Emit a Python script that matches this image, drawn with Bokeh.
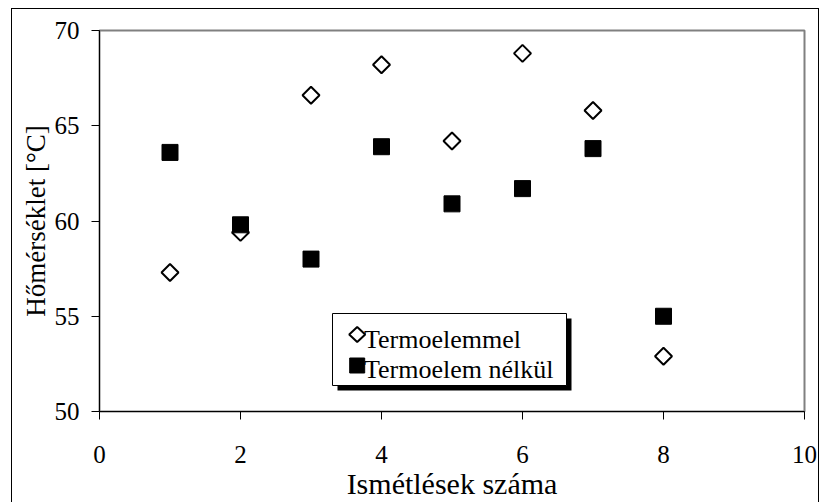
from bokeh.plotting import figure
from bokeh.models import (Range1d, FixedTicker, Legend, LegendItem, BoxAnnotation,
                          PolyAnnotation, ColumnDataSource)
from bokeh.embed import file_html
from bokeh.resources import INLINE
import numpy as np

# ---- data ----
repeats = [1, 2, 3, 4, 5, 6, 7, 8]
with_tc = [57.3, 59.4, 66.6, 68.2, 64.2, 68.8, 65.8, 52.9]       # Termoelemmel
without_tc = [63.6, 59.8, 58.0, 63.9, 60.9, 61.7, 63.8, 55.0]    # Termoelem nélkül
x_ticks = [0, 2, 4, 6, 8, 10]
y_ticks = [50, 55, 60, 65, 70]
series_names = ["Termoelemmel", "Termoelem nélkül"]
x_title = "Ismétlések száma"
y_title = "Hőmérséklet [°C]"

FONT = "Liberation Serif"

p = figure(width=806, height=493, output_backend="svg", toolbar_location=None,
           x_range=Range1d(0, 10), y_range=Range1d(50, 70),
           min_border_left=87, min_border_right=14, min_border_top=21, min_border_bottom=91,
           margin=(9, 0, 0, 12),
           styles={"outline": "1px solid black"})
p.background_fill_color = "white"
p.border_fill_color = "white"
p.outline_line_color = "#808080"
p.outline_line_width = 2
p.xgrid.visible = False
p.ygrid.visible = False

for ax, ticks in ((p.xaxis[0], x_ticks), (p.yaxis[0], y_ticks)):
    ax.ticker = FixedTicker(ticks=ticks)
    ax.minor_tick_line_color = None
    ax.major_tick_out = 8
    ax.major_tick_in = 0
    ax.axis_line_color = "black"
    ax.major_tick_line_color = "black"
    ax.major_label_text_font = FONT
    ax.major_label_text_font_size = "25px"
    ax.major_label_text_color = "black"
    ax.axis_label_text_font = FONT
    ax.axis_label_text_font_style = "normal"
    ax.axis_label_text_color = "black"

p.xaxis.axis_label = x_title
p.yaxis.axis_label = y_title
p.xaxis.axis_label_text_font_size = "30px"
p.yaxis.axis_label_text_font_size = "27px"
p.xaxis.major_label_standoff = 26
p.yaxis.major_label_standoff = 12
p.xaxis.axis_label_standoff = 1
p.yaxis.axis_label_standoff = 1

src = ColumnDataSource(dict(x=repeats, a=with_tc, b=without_tc))
r1 = p.scatter("x", "a", source=src, marker="square", angle=np.pi / 4, size=12,
               fill_color="white", line_color="black", line_width=2)
r2 = p.scatter("x", "b", source=src, marker="square", size=16,
               fill_color="black", line_color="black", line_width=1)
# invisible stand-ins for the legend entries (their keys are drawn as annotations)
k1 = p.scatter("x", "a", source=src, marker="diamond", size=1, fill_alpha=0, line_alpha=0,
               visible=False)
k2 = p.scatter("x", "b", source=src, marker="square", size=1, fill_alpha=0, line_alpha=0,
               visible=False)

def canvas_box(left, right, top, bottom, **kw):
    return BoxAnnotation(left=left, right=right, top=top, bottom=bottom,
                         left_units="canvas", right_units="canvas",
                         top_units="canvas", bottom_units="canvas", **kw)

# legend shadow, legend box and keys (canvas px), drawn beneath the legend texts
p.add_layout(canvas_box(325, 559, 309, 381, fill_color="black", fill_alpha=1, line_color=None))
p.add_layout(canvas_box(320, 554, 304, 376, fill_color="white", fill_alpha=1,
                        line_color="black", line_alpha=1, line_width=1))
p.add_layout(PolyAnnotation(xs=[336.7, 344.7, 352.7, 344.7], ys=[325, 317.5, 325, 332.5],
                            xs_units="canvas", ys_units="canvas",
                            fill_color="white", fill_alpha=1,
                            line_color="black", line_alpha=1, line_width=2))
p.add_layout(canvas_box(337.2, 352.2, 348.5, 363.5, fill_color="black", fill_alpha=1,
                        line_color="black", line_alpha=1, line_width=1))

legend = Legend(items=[LegendItem(label=series_names[0], renderers=[k1]),
                       LegendItem(label=series_names[1], renderers=[k2])],
                location=(233, 26))
legend.label_text_font = FONT
legend.label_text_font_size = "26px"
legend.label_text_color = "black"
legend.border_line_color = None
legend.background_fill_alpha = 0
legend.inactive_fill_alpha = 0
legend.padding = 5
legend.spacing = 0
legend.glyph_width = 30
legend.glyph_height = 20
legend.label_standoff = 2
legend.label_width = 192
legend.margin = 0
p.add_layout(legend)

open("out.html", "w").write(file_html(p, INLINE))
